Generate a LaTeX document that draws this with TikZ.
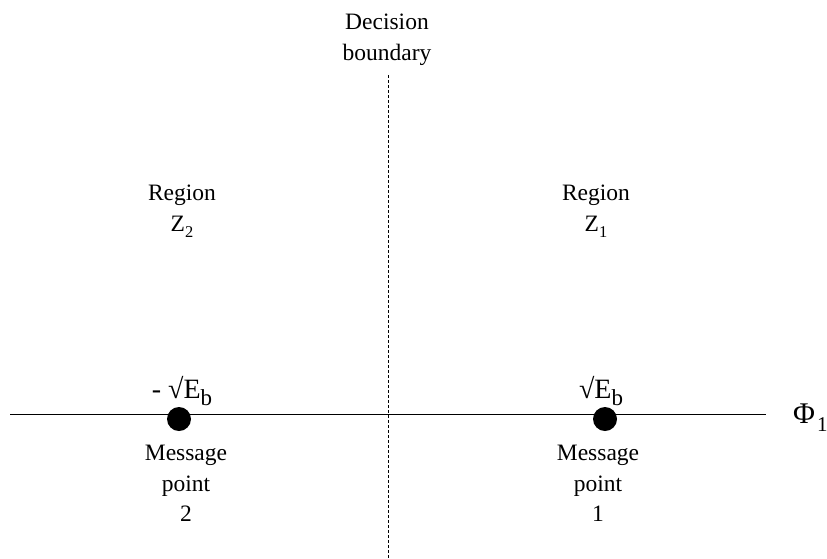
\documentclass[tikz,border=0pt]{standalone}
\usepackage{fontspec}
\setmainfont{Liberation Serif}
\newcommand{\sub}[1]{\raisebox{-0.28em}{\scalebox{0.7}{#1}}}
\newcommand{\subb}[1]{\raisebox{-0.25em}{\scalebox{0.82}{#1}}}
\begin{document}
\begin{tikzpicture}[x=1pt,y=-1pt,
  lbl/.style={align=center,font=\fontsize{23.5}{30.5}\selectfont,inner sep=0pt,anchor=north},
  big/.style={font=\fontsize{28}{30}\selectfont,inner sep=0pt,anchor=base},
  dot/.style={circle,fill=black,minimum size=24pt,inner sep=0pt}]
\useasboundingbox (0,0) rectangle (827,558);
\coordinate (axl) at (10,414);
\coordinate (axr) at (766,414);
\coordinate (vt) at (388,75);
\coordinate (vb) at (388,558);
\draw[line width=0.8pt] (axl) -- (axr);
\draw[line width=0.8pt,dash pattern=on 3pt off 2pt] (vt) -- (vb);
\node[dot] (m2) at (179,419) {};
\node[dot] (m1) at (605,419) {};
\node[lbl] (db) at (387,14) {Decision\\boundary};
\node[lbl] (r2) at (182,185) {Region\\Z\sub{2}};
\node[lbl] (r1) at (596,185) {Region\\Z\sub{1}};
\node[lbl] (p2) at (186,445) {Message\\point\\2};
\node[lbl] (p1) at (598,445) {Message\\point\\1};
\node[big] (e2) at (182,398) {- √E\subb{b}};
\node[big] (e1) at (601,398) {√E\subb{b}};
\node[big,anchor=base west,font=\fontsize{30}{32}\selectfont] (phi) at (793,423) {Φ\hspace{2pt}\sub{1}};
\end{tikzpicture}
\end{document}
